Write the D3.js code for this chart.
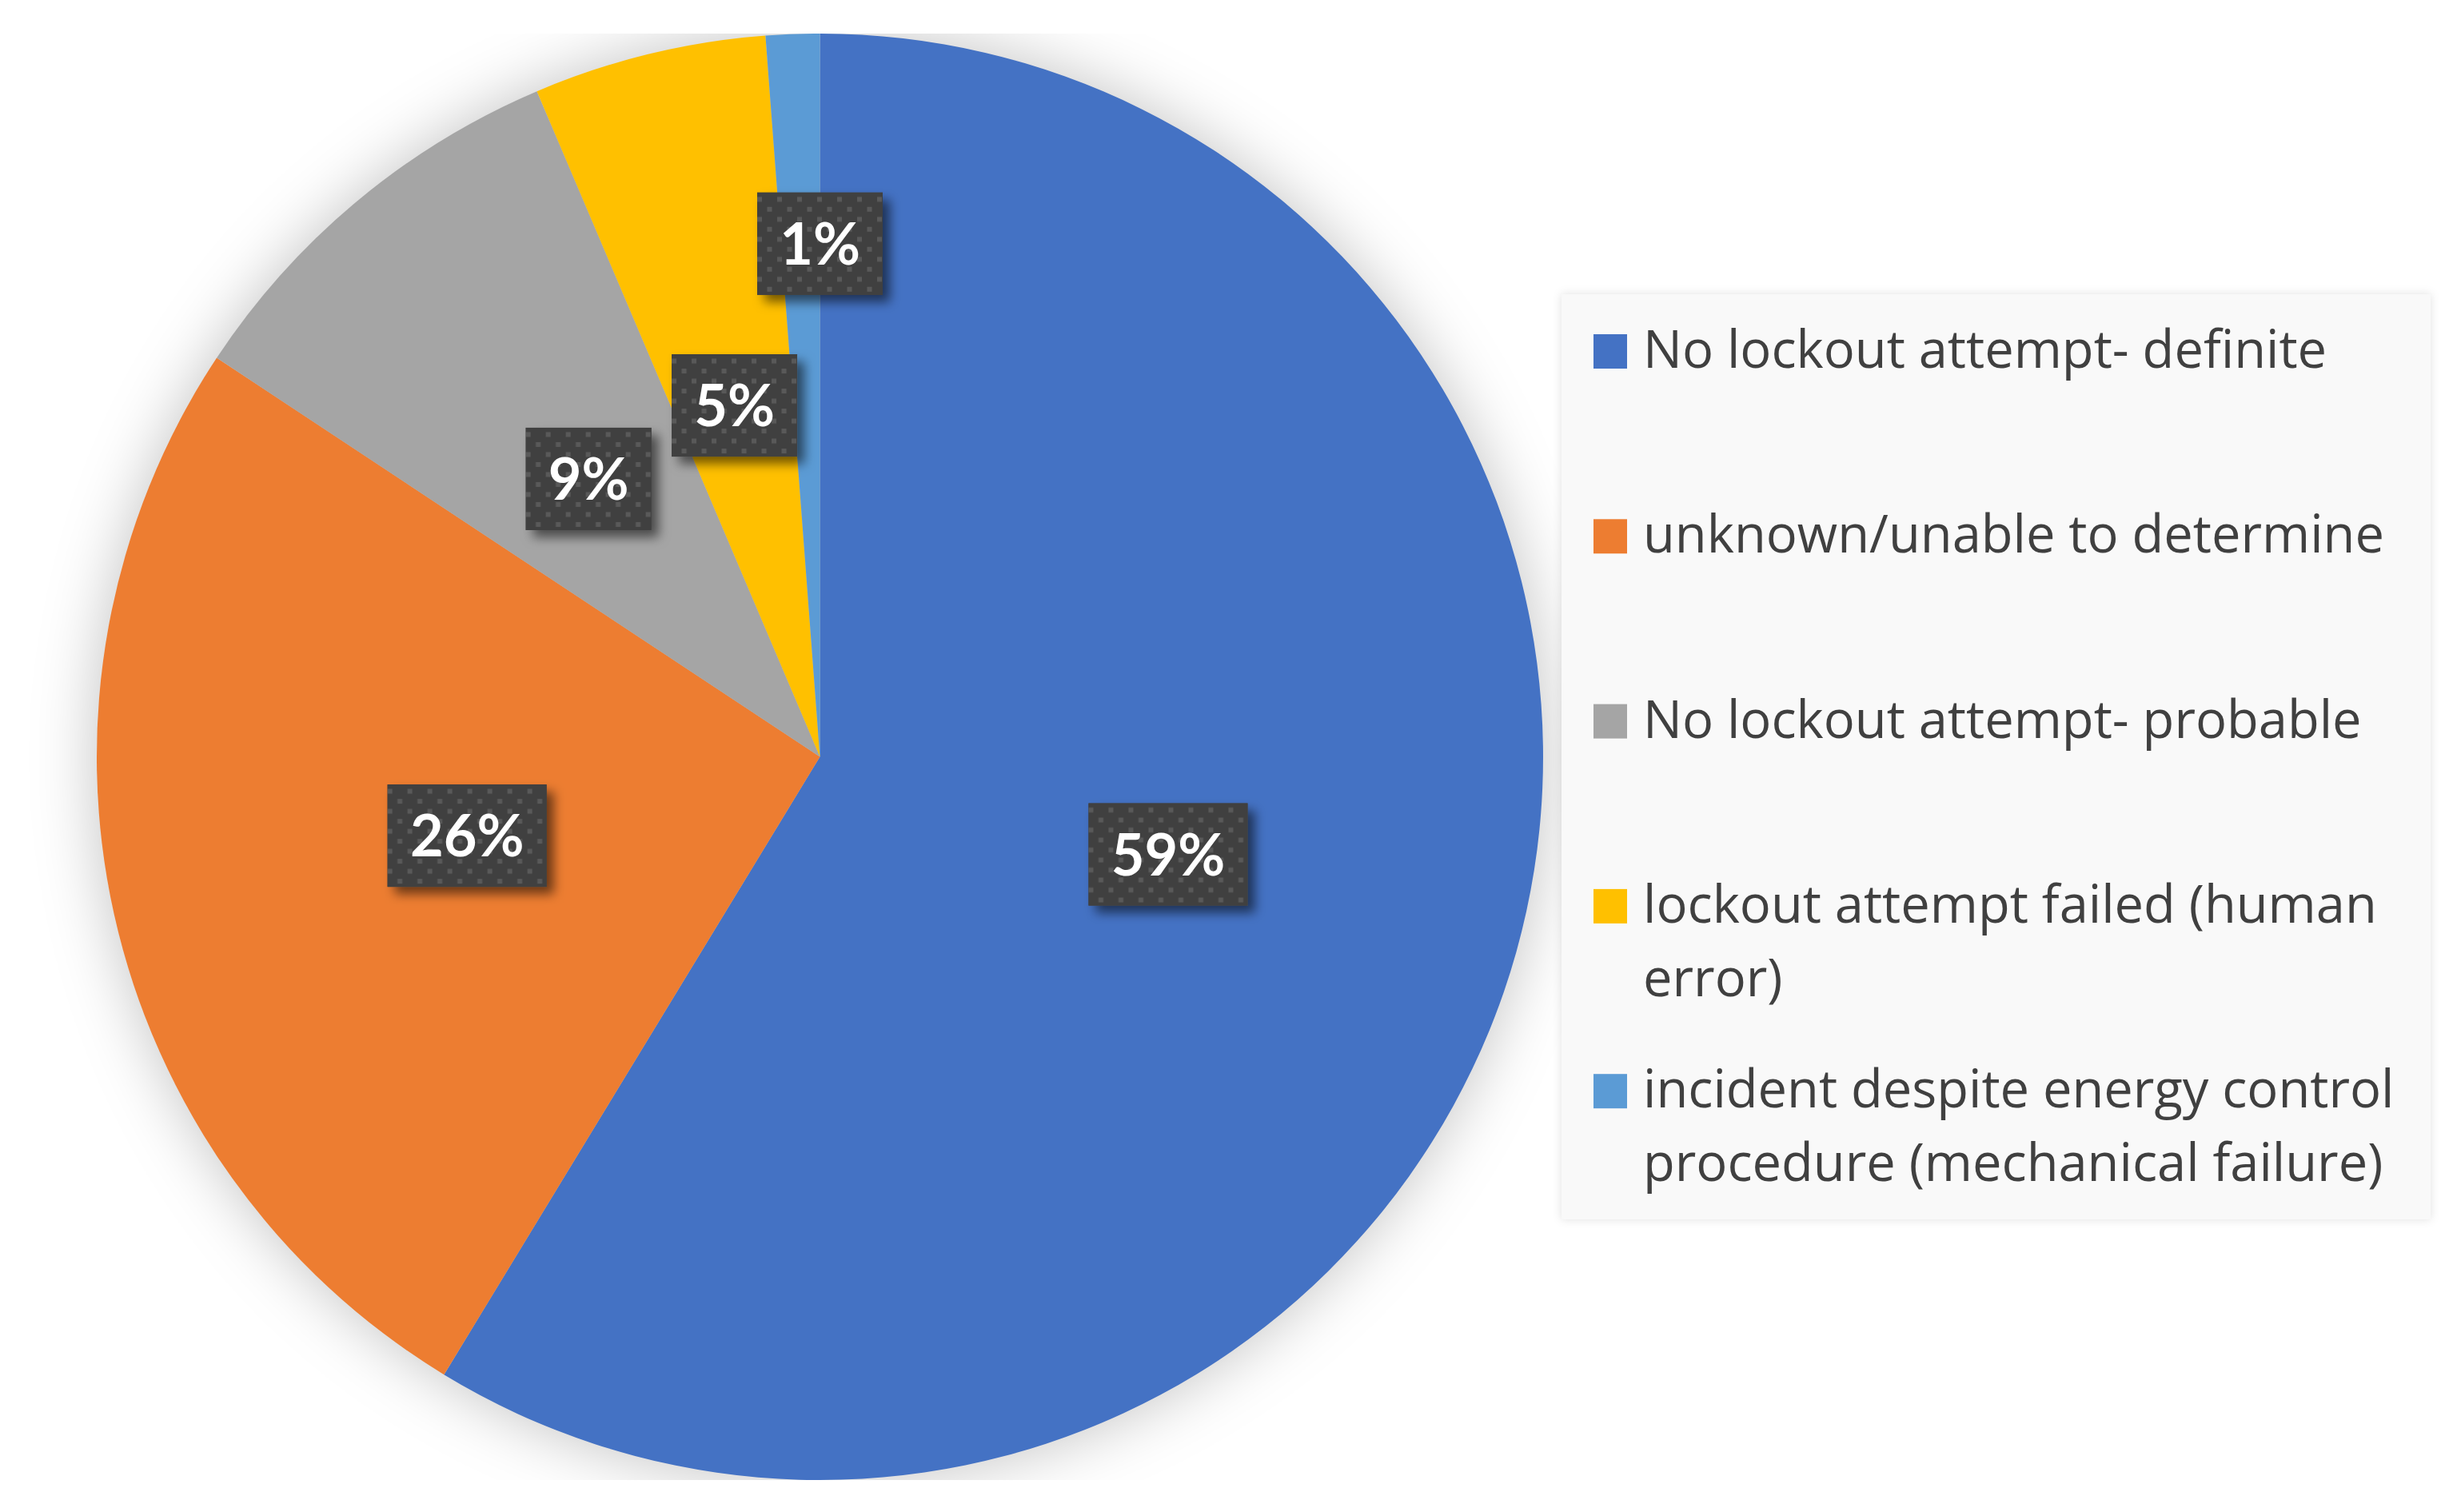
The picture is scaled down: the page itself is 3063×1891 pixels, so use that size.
<!DOCTYPE html>
<html><head><meta charset="utf-8">
<script src="https://cdn.jsdelivr.net/npm/d3@7"></script>
<style>body{margin:0;background:#fff}svg{display:block}</style>
</head><body><svg id="chart" width="3063" height="1891"></svg>
<script>
// ---- data ----
const categories = [
  "No lockout attempt- definite",
  "unknown/unable to determine",
  "No lockout attempt- probable",
  "lockout attempt failed (human error)",
  "incident despite energy control procedure (mechanical failure)"
];
const values = [58.7, 25.6, 9.3, 5.2, 1.2];
const colors = ["#4472C4", "#ED7D31", "#A5A5A5", "#FFC000", "#5B9BD5"];

// ---- layout ----
const W = 3063, H = 1891;
const cx = 1025.5, cy = 946.5, R = 904.5;
const svg = d3.select("#chart");
const defs = svg.append("defs");

// pie glow/shadow
const fShadow = defs.append("filter").attr("id", "pieShadow")
  .attr("x", "-20%").attr("y", "-20%").attr("width", "140%").attr("height", "140%");
fShadow.append("feGaussianBlur").attr("stdDeviation", 40);
defs.append("clipPath").attr("id", "plotClip")
  .append("rect").attr("x", 0).attr("y", cy - R).attr("width", W).attr("height", 2 * R);

// label drop shadow
const fLab = defs.append("filter").attr("id", "labShadow")
  .attr("x", "-30%").attr("y", "-30%").attr("width", "160%").attr("height", "160%");
fLab.append("feDropShadow").attr("dx", 9).attr("dy", 9).attr("stdDeviation", 7)
  .attr("flood-color", "#000").attr("flood-opacity", 0.55);

// legend shadow
const fLeg = defs.append("filter").attr("id", "legShadow")
  .attr("x", "-5%").attr("y", "-5%").attr("width", "110%").attr("height", "110%");
fLeg.append("feDropShadow").attr("dx", 0).attr("dy", 0).attr("stdDeviation", 6)
  .attr("flood-color", "#000").attr("flood-opacity", 0.12);

// dotted pattern for label boxes
const pat = defs.append("pattern").attr("id", "dots").attr("patternUnits", "userSpaceOnUse")
  .attr("width", 25).attr("height", 25);
pat.append("rect").attr("width", 25).attr("height", 25).attr("fill", "#404040");
pat.append("rect").attr("x", 0).attr("y", 5.5).attr("width", 6).attr("height", 6).attr("fill", "#595959");
pat.append("rect").attr("x", 12.5).attr("y", 18).attr("width", 6).attr("height", 6).attr("fill", "#595959");

// shadow
svg.append("g").attr("clip-path", "url(#plotClip)")
  .append("circle").attr("cx", cx).attr("cy", cy).attr("r", R)
  .attr("fill", "#000").attr("fill-opacity", 0.24).attr("filter", "url(#pieShadow)");

const pie = d3.pie().sort(null).value(d => d)(values);
const arc = d3.arc().innerRadius(0).outerRadius(R);

const g = svg.append("g").attr("transform", `translate(${cx},${cy})`);
g.selectAll("path.slice").data(pie).enter().append("path")
  .attr("class", "slice")
  .attr("d", arc)
  .attr("fill", (d, i) => colors[i]);

// data labels
const fmt = d3.format(".0%");
const labG = g.selectAll("g.lab").data(pie).enter().append("g").attr("class", "lab");
labG.each(function(d, i) {
  const sel = d3.select(this);
  const span = d.endAngle - d.startAngle;
  const rr = span < 0.1 ? R * 0.71 : R * 0.5;
  const mid = (d.startAngle + d.endAngle) / 2;
  let x = Math.sin(mid) * rr, y = -Math.cos(mid) * rr;
  if (span < 0.1) x = 0;
  const t = sel.append("text").text(fmt(values[i] / 100))
    .attr("font-family", "Lato, 'Open Sans', sans-serif").attr("font-weight", 700)
    .attr("font-size", 72).attr("fill", "#fff").attr("text-anchor", "middle");
  const tw = t.node().getComputedTextLength();
  const bw = Math.round(tw + 56), bh = 128;
  const box = sel.insert("g", "text").attr("transform", `translate(${x - bw / 2},${y - bh / 2})`);
  box.append("rect").attr("width", bw).attr("height", bh).attr("fill", "#404040").attr("filter", "url(#labShadow)");
  box.append("rect").attr("width", bw).attr("height", bh).attr("fill", "url(#dots)");
  t.attr("x", x).attr("y", y + 26);
});

// legend
const legFont = "'Open Sans', Lato, sans-serif", legSize = 65;
const leg = svg.append("g");
leg.append("rect").attr("x", 1953).attr("y", 368).attr("width", 1087).attr("height", 1157)
  .attr("fill", "#f9f9f9").attr("filter", "url(#legShadow)");
const maxW = 1000;
const rowBase = 460, rowStep = 231.3, lineStep = 92;
categories.forEach((c, i) => {
  const by = rowBase + i * rowStep;
  leg.append("rect").attr("x", 1993).attr("y", by - 42).attr("width", 42).attr("height", 43).attr("fill", colors[i]);
  const txt = leg.append("text").attr("font-family", legFont)
    .attr("font-size", legSize).attr("fill", "#404040");
  // greedy wrap
  const words = c.split(" ");
  let line = [], lines = [];
  const probe = leg.append("text").attr("font-family", legFont).attr("font-size", legSize);
  words.forEach(w => {
    const test = line.concat([w]).join(" ");
    probe.text(test);
    if (probe.node().getComputedTextLength() > maxW && line.length) { lines.push(line.join(" ")); line = [w]; }
    else line.push(w);
  });
  lines.push(line.join(" "));
  probe.remove();
  lines.forEach((l, k) => {
    txt.append("tspan").attr("x", 2055).attr("y", by + k * lineStep).text(l);
  });
});
</script>
</body></html>
